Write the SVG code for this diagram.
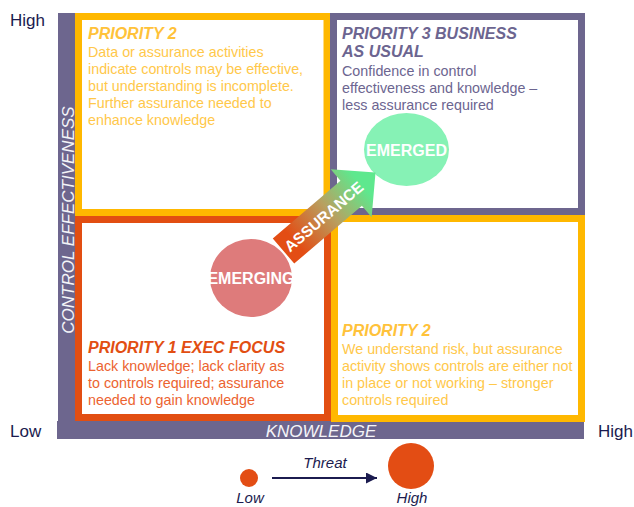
<svg xmlns="http://www.w3.org/2000/svg" width="634" height="507" viewBox="0 0 634 507">
<style>
text{font-family:"Liberation Sans",Arial,sans-serif}
.axis{fill:#6D668E}
.lbl{fill:#1B1B4F;font-size:17px}
.axt{fill:#F4F4F8;font-style:italic;font-size:17px}
.h{font-weight:bold;font-style:italic;font-size:16px}
.b{font-size:14.3px}
.yt{fill:#FFC84A}
.yh{fill:#FFC23A}
.pt{fill:#6C6590}
.rh{fill:#E24E12}
.rt{fill:#EC6330}
.bubble{fill:#FFFFFF;font-weight:bold;font-size:16px;text-anchor:middle}
.leg{fill:#1B1B4F;font-style:italic;font-size:15px;text-anchor:middle}
</style>
<defs>
<linearGradient id="ag" x1="0" y1="0" x2="1" y2="0">
<stop offset="0.12" stop-color="#E34D14"/>
<stop offset="0.5" stop-color="#B8A060"/>
<stop offset="0.85" stop-color="#5EE88E"/>
</linearGradient>
<marker id="ah" viewBox="0 0 10 10" refX="10" refY="5" markerWidth="5.5" markerHeight="5.5" orient="auto">
<path d="M0,0 L10,5 L0,10 z" fill="#1B1B4F"/>
</marker>
</defs>

<g id="axes">
<rect class="axis" x="58" y="13" width="17" height="409"/>
<rect class="axis" x="57" y="421" width="527" height="18"/>
<text class="axt" x="321" y="437" text-anchor="middle">KNOWLEDGE</text>
<text class="axt" transform="translate(74,220) rotate(-90)" text-anchor="middle" font-size="18">CONTROL EFFECTIVENESS</text>
<text class="lbl" x="10" y="26">High</text>
<text class="lbl" x="10" y="437">Low</text>
<text class="lbl" x="598" y="437">High</text>
</g>

<g id="q-top-left">
<rect x="78.5" y="16.5" width="248.5" height="196" fill="#FFFFFF" stroke="#FFB800" stroke-width="7"/>
<text class="h yh" x="88" y="39">PRIORITY 2</text>
<text class="b yt" x="88" y="57">Data or assurance activities</text>
<text class="b yt" x="88" y="74">indicate controls may be effective,</text>
<text class="b yt" x="88" y="91">but understanding is incomplete.</text>
<text class="b yt" x="88" y="108">Further assurance needed to</text>
<text class="b yt" x="88" y="125">enhance knowledge</text>
</g>

<g id="q-top-right">
<rect x="333.5" y="16.5" width="248" height="195" fill="#FFFFFF" stroke="#6D668E" stroke-width="7"/>
<text class="h pt" x="342" y="39">PRIORITY 3 BUSINESS</text>
<text class="h pt" x="342" y="57">AS USUAL</text>
<text class="b pt" x="342" y="76">Confidence in control</text>
<text class="b pt" x="342" y="93">effectiveness and knowledge –</text>
<text class="b pt" x="342" y="110">less assurance required</text>
</g>

<g id="q-bottom-left">
<rect x="78.5" y="219.5" width="249" height="198" fill="#FFFFFF" stroke="#E24E12" stroke-width="7"/>
<text class="h rh" x="88" y="353">PRIORITY 1 EXEC FOCUS</text>
<text class="b rt" x="88" y="371">Lack knowledge; lack clarity as</text>
<text class="b rt" x="88" y="388">to controls required; assurance</text>
<text class="b rt" x="88" y="405">needed to gain knowledge</text>
</g>

<g id="q-bottom-right">
<rect x="334.5" y="218.5" width="247" height="200" fill="#FFFFFF" stroke="#FFB800" stroke-width="7"/>
<text class="h yh" x="342" y="336">PRIORITY 2</text>
<text class="b yt" x="342" y="354">We understand risk, but assurance</text>
<text class="b yt" x="342" y="371">activity shows controls are either not</text>
<text class="b yt" x="342" y="388">in place or not working – stronger</text>
<text class="b yt" x="342" y="405">controls required</text>
</g>

<g id="emerging">
<ellipse cx="251" cy="278" rx="41" ry="39" fill="#DE7B7B"/>
<text class="bubble" x="251" y="284">EMERGING</text>
</g>

<g id="emerged">
<ellipse cx="406.5" cy="149.5" rx="42.5" ry="36.5" fill="#86F2B5"/>
<text class="bubble" x="406.5" y="156">EMERGED</text>
</g>

<g id="connectors">
<g id="assurance-arrow" transform="translate(283.5,251) rotate(-40.5)">
<path d="M0,-16.5 L89,-16.5 L89,-31.5 L121,0 L89,31.5 L89,16.5 L0,16.5 z" fill="url(#ag)"/>
<text x="53" y="5.5" fill="#FFFFFF" font-weight="bold" font-size="15.5" text-anchor="middle">ASSURANCE</text>
</g>
<line x1="272" y1="478" x2="377" y2="478" stroke="#1B1B4F" stroke-width="2" marker-end="url(#ah)"/>
</g>

<g id="legend">
<circle cx="249" cy="478" r="9" fill="#E34D14"/>
<circle cx="411" cy="466" r="23" fill="#E34D14"/>
<text class="leg" x="325" y="468">Threat</text>
<text class="leg" x="250" y="503">Low</text>
<text class="leg" x="412" y="503">High</text>
</g>
</svg>
